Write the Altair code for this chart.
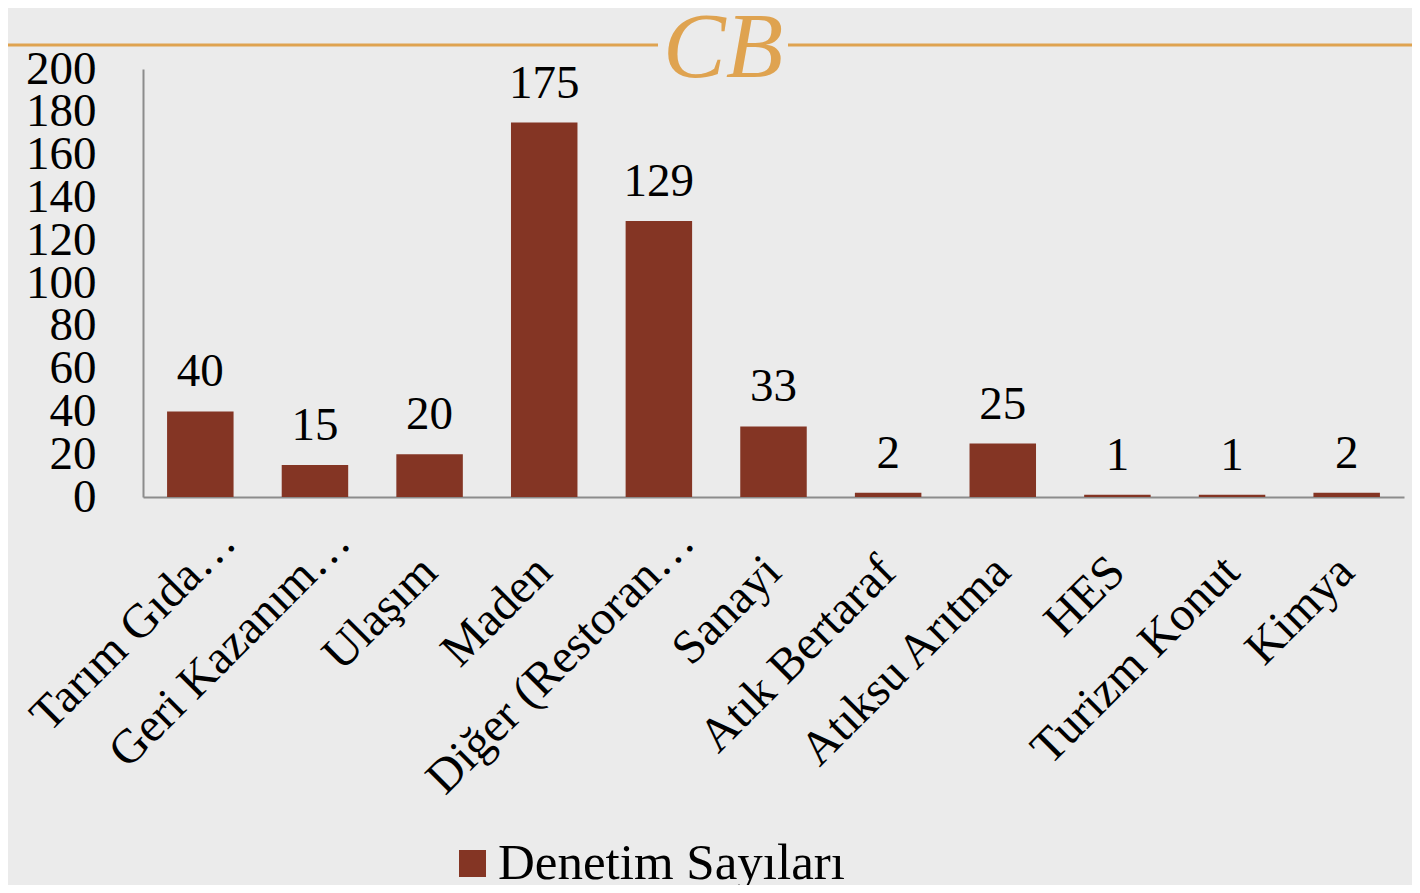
import altair as alt
import pandas as pd

categories = ["Tarım Gıda…", "Geri Kazanım…", "Ulaşım", "Maden", "Diğer (Restoran…",
              "Sanayi", "Atık Bertaraf", "Atıksu Arıtma", "HES", "Turizm Konut", "Kimya"]
values = [40, 15, 20, 175, 129, 33, 2, 25, 1, 1, 2]
series_name = "Denetim Sayıları"
y_ticks = list(range(0, 201, 20))

FONT = "Palatino Linotype, Book Antiqua, Palatino, Liberation Serif, serif"
BAR = "#843524"
GOLD = "#dfa350"

df = pd.DataFrame({"cat": categories, "v": values, "s": [series_name] * len(categories)})

W, H = 1261, 428
ELL = "indexof(datum.label, '…') >= 0"

base = alt.Chart(df)

bars = base.mark_bar().encode(
    x=alt.X("cat:N", sort=categories,
            scale=alt.Scale(paddingInner=0.42, paddingOuter=0.21),
            axis=alt.Axis(title=None, labelAngle=-45, labelAlign="right", labelBaseline="alphabetic",
                          labelFontSize=48, labelFont=FONT, labelColor="black", labelLimit=0,
                          ticks=False, domainColor="#8c8c8c", domainWidth=2,
                          labelPadding={"condition": {"test": ELL, "value": 47}, "value": 77},
                          labelOffset={"condition": {"test": ELL, "value": 38}, "value": 10},
                          labelOverlap=False)),
    y=alt.Y("v:Q", scale=alt.Scale(domain=[0, 200], nice=False),
            axis=alt.Axis(title=None, values=y_ticks, grid=False, ticks=False,
                          labelFontSize=47, labelFont=FONT, labelColor="black",
                          labelPadding=47, domainColor="#8c8c8c", domainWidth=2,
                          labelOverlap=False)),
    color=alt.Color("s:N", scale=alt.Scale(range=[BAR]),
                    legend=alt.Legend(title=None, orient="none", legendX=304, legendY=769,
                                      symbolType="square", symbolSize=729, symbolStrokeWidth=0,
                                      labelFontSize=51, labelFont=FONT, labelColor="black",
                                      labelLimit=0, symbolOffset=0, labelOffset=0)),
)

labels = base.mark_text(baseline="alphabetic", dy=-25, fontSize=47, font=FONT, color="black").encode(
    x=alt.X("cat:N", sort=categories),
    y="v:Q",
    text="v:Q",
)

deco = pd.DataFrame({"a": [0]})
line1 = alt.Chart(deco).mark_rule(color=GOLD, strokeWidth=3).encode(
    x=alt.value(-135), x2=alt.value(515), y=alt.value(-24))
line2 = alt.Chart(deco).mark_rule(color=GOLD, strokeWidth=3).encode(
    x=alt.value(645), x2=alt.value(1269), y=alt.value(-24))
logo = alt.Chart(deco).mark_text(text="CB", font=FONT, fontSize=94, fontStyle="italic",
                                 color=GOLD, baseline="middle", align="center").encode(
    x=alt.value(580), y=alt.value(-20))

chart = alt.layer(bars, labels, line1, line2, logo).properties(
    width=W, height=H,
    autosize="none",
    padding={"left": 135, "top": 61, "right": 8, "bottom": 388},
    background="#ebebeb",
).configure_view(stroke=None)

chart.save("out.html", embed_options={"renderer": "svg", "actions": False})
